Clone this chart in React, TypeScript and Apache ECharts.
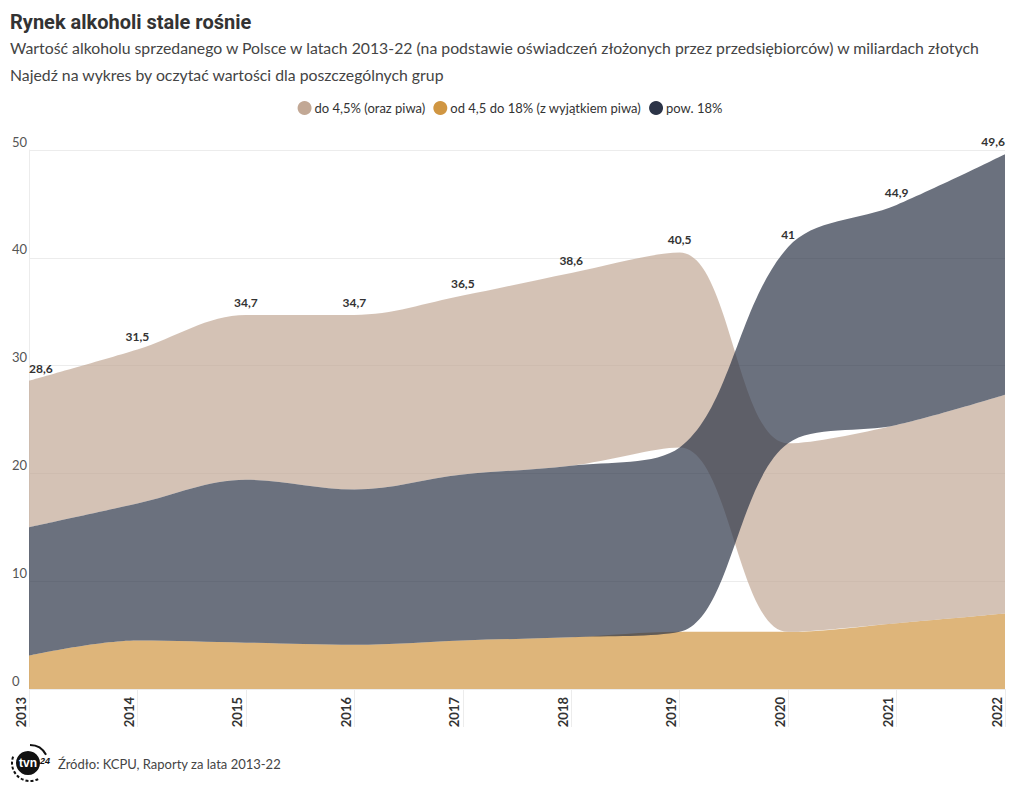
import React, { useEffect, useRef } from "react";
import * as echarts from "echarts";

const years = ["2013", "2014", "2015", "2016", "2017", "2018", "2019", "2020", "2021", "2022"];
// do 4,5% (oraz piwa)
const lowAlc = [13.6, 14.3, 15.3, 16.2, 16.6, 17.9, 18.1, 17.5, 18.4, 20.3];
// od 4,5 do 18% (z wyjątkiem piwa)
const midAlc = [3.1, 4.5, 4.3, 4.1, 4.5, 4.8, 5.3, 5.3, 6.1, 7.0];
// pow. 18%
const highAlc = [11.9, 12.7, 15.1, 14.4, 15.4, 15.9, 17.1, 18.2, 20.4, 22.3];
const totals = [28.6, 31.5, 34.7, 34.7, 36.5, 38.6, 40.5, 41, 44.9, 49.6];

const names = ["do 4,5% (oraz piwa)", "od 4,5 do 18% (z wyjątkiem piwa)", "pow. 18%"];
const colors = ["#c2a895", "#d09642", "#2c3447"];

const FONT = "'Lato', 'Noto Sans', sans-serif";

export default function App() {
  const ref = useRef<HTMLDivElement>(null);
  useEffect(() => {
    if (!ref.current) return;
    const chart = echarts.init(ref.current, undefined, { renderer: "svg" });
    const groups = [lowAlc, midAlc, highAlc];
    // per-year ordering: smallest at bottom
    const bases = groups.map(() => years.map(() => 0));
    years.forEach((_, i) => {
      const order = [0, 1, 2].sort((a, b) => groups[a][i] - groups[b][i]);
      let acc = 0;
      order.forEach((g) => {
        bases[g][i] = +acc.toFixed(2);
        acc += groups[g][i];
      });
    });
    const drawOrder = [1, 0, 2];
    const series: any[] = [];
    drawOrder.forEach((g) => {
      series.push({
        name: "_base" + g,
        type: "line",
        stack: "s" + g,
        data: bases[g],
        smooth: 0.35,
        symbol: "none",
        silent: true,
        lineStyle: { width: 0, opacity: 0 },
        z: 2,
      });
      series.push({
        name: names[g],
        type: "line",
        stack: "s" + g,
        data: groups[g],
        smooth: 0.35,
        symbol: "none",
        color: colors[g],
        lineStyle: { width: 0, opacity: 0 },
        areaStyle: { color: colors[g], opacity: 0.7 },
        z: 2,
      });
    });
    series.push({
      name: "_total",
      type: "line",
      data: totals.map((v, i) => ({
        value: v,
        label: i === 0 ? { align: "left" } : i === totals.length - 1 ? { align: "right" } : {},
      })),
      symbol: "circle",
      symbolSize: 1,
      showSymbol: true,
      itemStyle: { color: "rgba(0,0,0,0)" },
      lineStyle: { opacity: 0, width: 0 },
      silent: true,
      z: 5,
      label: {
        show: true,
        position: "top",
        distance: 6,
        fontFamily: FONT,
        fontWeight: "bold",
        fontSize: 12,
        color: "#333",
        formatter: (p: any) => String(p.value).replace(".", ","),
      },
    });

    chart.setOption({
      animation: false,
      backgroundColor: "#fff",
      title: [
        {
          text: "Rynek alkoholi stale rośnie",
          left: 10,
          top: 12,
          padding: 0,
          textStyle: {
            fontFamily: "'Roboto', sans-serif",
            fontWeight: "bold",
            fontSize: 20,
            color: "#333",
          },
        },
        {
          text: "Wartość alkoholu sprzedanego w Polsce w latach 2013-22 (na podstawie oświadczeń złożonych przez przedsiębiorców) w miliardach złotych",
          left: 10,
          top: 39,
          padding: 0,
          textStyle: { fontFamily: FONT, fontWeight: "normal", fontSize: 15.8, color: "#444" },
        },
        {
          text: "Najedź na wykres by oczytać wartości dla poszczególnych grup",
          left: 10,
          top: 66,
          padding: 0,
          textStyle: { fontFamily: FONT, fontWeight: "normal", fontSize: 15.8, color: "#444" },
        },
      ],
      legend: {
        top: 101,
        left: "center",
        padding: 0,
        icon: "circle",
        itemWidth: 14,
        itemHeight: 14,
        itemGap: 8,
        selectedMode: false,
        data: names,
        textStyle: { fontFamily: FONT, fontSize: 13, color: "#333", padding: [0, 0, 0, -2] },
      },
      grid: { left: 29, right: 15, top: 150, bottom: 108 },
      xAxis: {
        type: "category",
        data: years,
        boundaryGap: false,
        axisLine: { show: false },
        axisTick: { show: true, length: 38, lineStyle: { color: "#ececec" } },
        axisLabel: {
          rotate: 90,
          verticalAlign: "bottom",
          margin: 8,
          fontFamily: FONT,
          fontWeight: "bold",
          fontSize: 13,
          color: "#333",
          padding: [0, 0, 2, 0],
        },
      },
      yAxis: {
        type: "value",
        min: 0,
        max: 50,
        interval: 10,
        axisLine: { show: true, lineStyle: { color: "#ececec" } },
        axisTick: { show: false },
        splitLine: { lineStyle: { color: "#ececec" } },
        axisLabel: {
          align: "left",
          verticalAlign: "bottom",
          margin: 17,
          fontFamily: FONT,
          fontSize: 13,
          color: "#555",
          padding: [0, 0, 2, 0],
        },
      },
      graphic: [
        { type: "circle", shape: { cx: 28, cy: 763, r: 12 }, style: { fill: "#111" } },
        {
          type: "text",
          x: 28,
          y: 763,
          style: { text: "tvn", fill: "#fff", font: "bold 12px 'Liberation Sans', sans-serif", align: "center", verticalAlign: "middle" },
        },
        {
          type: "text",
          x: 45,
          y: 761,
          style: { text: "24", fill: "#111", font: "bold italic 9px 'Liberation Sans', sans-serif", align: "center", verticalAlign: "middle" },
        },
        {
          type: "arc",
          shape: { cx: 30, cy: 763, r: 18, startAngle: Math.PI * 0.35, endAngle: Math.PI * 1.15 },
          style: { stroke: "#111", lineWidth: 2, lineDash: [3, 2], fill: "none" },
        },
        {
          type: "arc",
          shape: { cx: 30, cy: 763, r: 18, startAngle: Math.PI * 1.5, endAngle: Math.PI * 1.85 },
          style: { stroke: "#111", lineWidth: 2, fill: "none" },
        },
        {
          type: "text",
          x: 58,
          y: 764,
          style: {
            text: "Źródło: KCPU, Raporty za lata 2013-22",
            fill: "#444",
            font: "13px " + FONT,
            verticalAlign: "middle",
          },
        },
      ],
      series,
    });
    return () => chart.dispose();
  }, []);
  return (
    <div
      ref={ref}
      style={{ position: "fixed", left: 0, top: 0, width: 1020, height: 797, background: "#fff" }}
    />
  );
}
